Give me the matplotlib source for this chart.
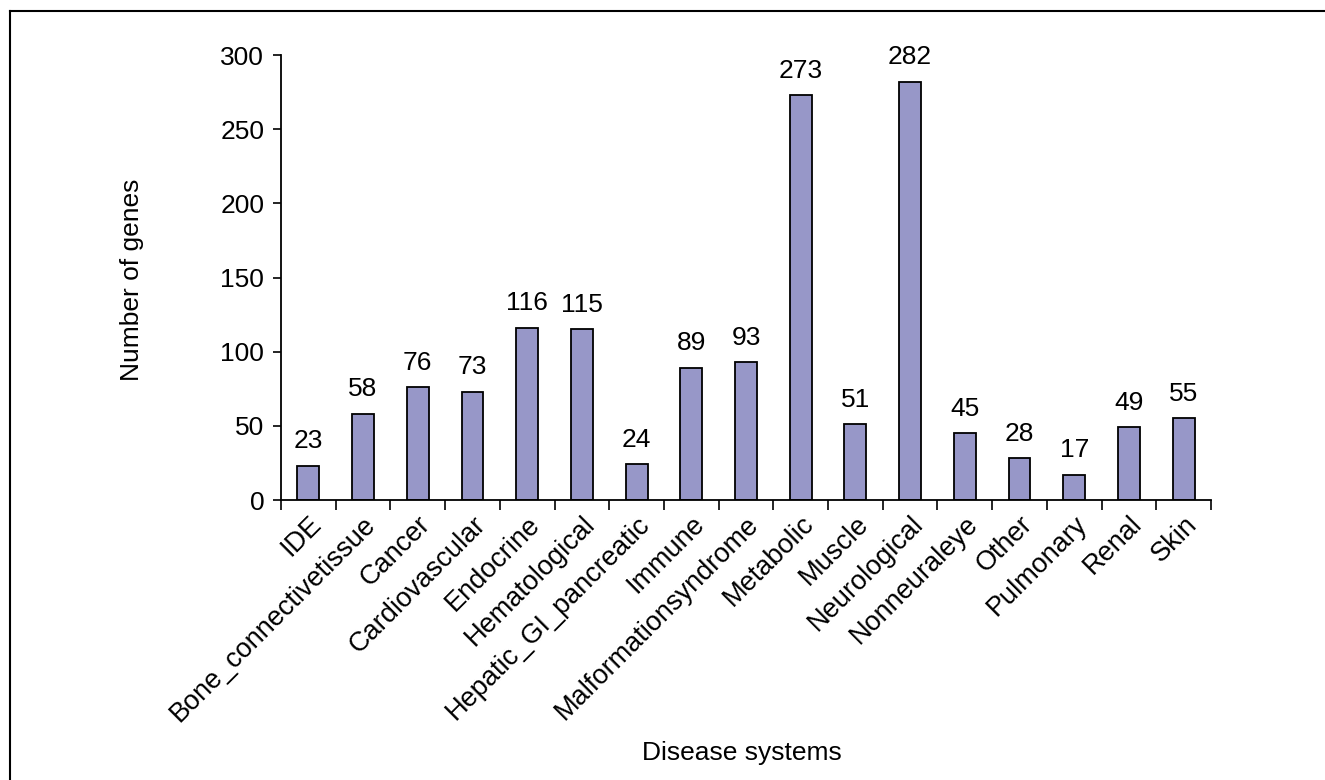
import numpy as np
import matplotlib.pyplot as plt
from matplotlib.lines import Line2D

categories = ['IDE', 'Bone_connectivetissue', 'Cancer', 'Cardiovascular', 'Endocrine',
              'Hematological', 'Hepatic_GI_pancreatic', 'Immune', 'Malformationsyndrome',
              'Metabolic', 'Muscle', 'Neurological', 'Nonneuraleye', 'Other',
              'Pulmonary', 'Renal', 'Skin']
genes = [23, 58, 76, 73, 116, 115, 24, 89, 93, 273, 51, 282, 45, 28, 17, 49, 55]

plt.rcParams['font.family'] = ['Liberation Sans', 'DejaVu Sans']

W, H = 1325, 780
fig = plt.figure(figsize=(W / 100, H / 100), dpi=100)
ax = fig.add_axes([281 / W, 1 - 500 / H, (1211 - 281) / W, (500 - 55) / H])

x = np.arange(len(categories))
bars = ax.bar(x, genes, width=0.4, color='#9797c8', edgecolor='black', linewidth=1.3)

for xi, v in zip(x, genes):
    ax.annotate(str(v), (xi, v), xytext=(0, 9), textcoords='offset points',
                ha='center', va='bottom', fontsize=19)

ax.set_xlim(-0.5, len(categories) - 0.5)
ax.set_ylim(0, 300)
ax.set_yticks(range(0, 301, 50))
ax.tick_params(axis='y', labelsize=19, direction='out', length=6, width=1.2, pad=6)

# ticks sit on the boundaries between categories, labels under each bar
ax.set_xticks(np.arange(-0.5, len(categories), 1.0))
ax.set_xticklabels([])
ax.tick_params(axis='x', direction='out', length=7, width=1.2)
ax.set_xticks(x, minor=True)
ax.set_xticklabels(categories, minor=True, rotation=45, ha='right', rotation_mode='anchor',
                   fontsize=19.5)
ax.tick_params(axis='x', which='minor', length=0, pad=8)

for s in ['top', 'right']:
    ax.spines[s].set_visible(False)
for s in ['left', 'bottom']:
    ax.spines[s].set_linewidth(1.3)

fig.text(132 / W, 1 - 280 / H, 'Number of genes', rotation=90, ha='center', va='center',
         fontsize=19)
fig.text(742 / W, 1 - 753 / H, 'Disease systems', ha='center', va='center', fontsize=19)

# frame around the figure
fig.add_artist(Line2D([10 / W, 1], [1 - 11 / H, 1 - 11 / H], color='black', lw=1.5,
                      transform=fig.transFigure))
fig.add_artist(Line2D([10 / W, 10 / W], [0, 1 - 11 / H], color='black', lw=1.5,
                      transform=fig.transFigure))

fig.savefig('out.png', dpi=100)
